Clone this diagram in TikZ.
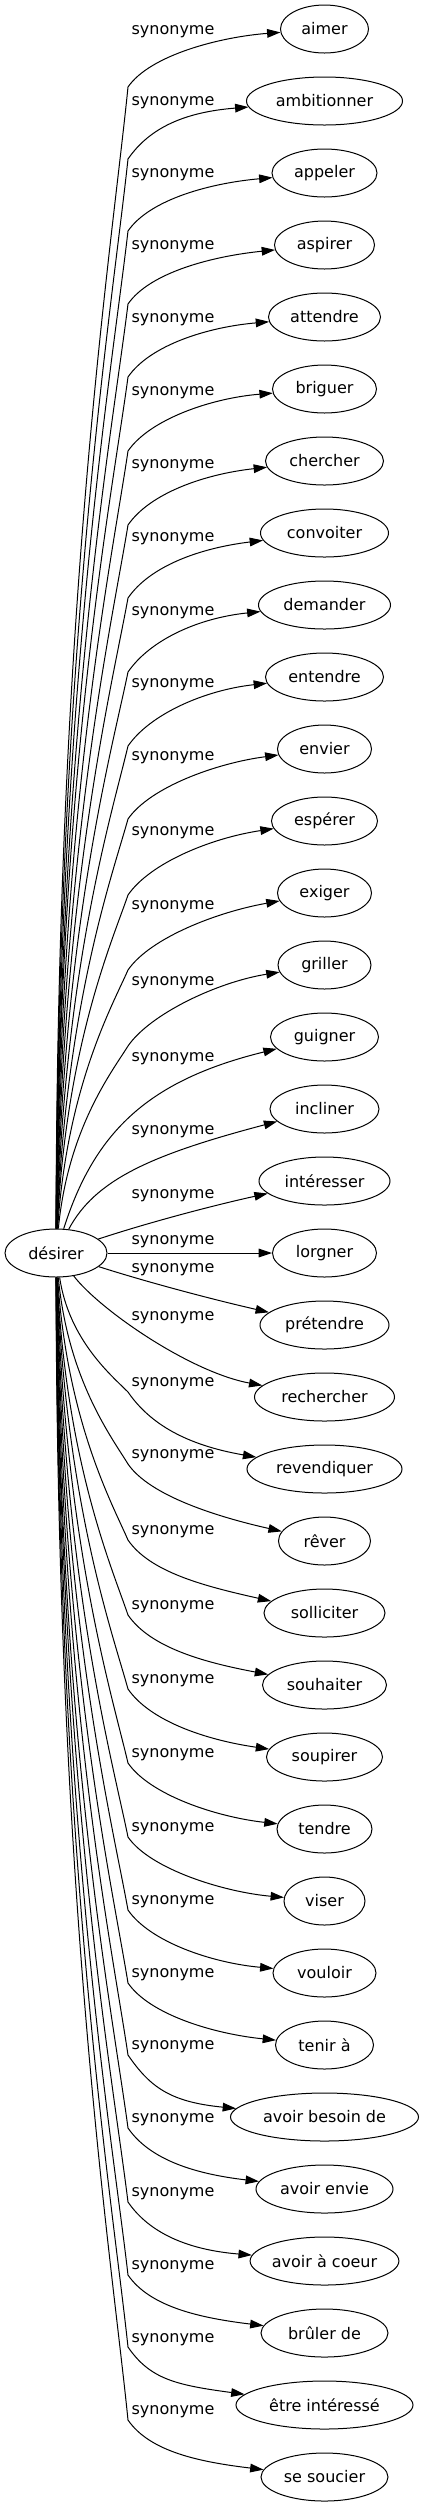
\documentclass[tikz,border=0pt]{standalone}
\usepackage{fontspec}
\setmainfont{DejaVu Sans}
\usetikzlibrary{shapes.geometric,arrows.meta,calc}
\tikzset{
  tnode/.style={draw, ellipse, line width=0.75pt, minimum width={#1*0.75pt}, minimum height=36pt, inner sep=0pt},
  lab/.style={inner sep=0pt},
  edge/.style={line width=0.75pt, -{Triangle[length=10pt,width=6.5pt]}}
}
% #1 target, #2 label y, #3 bend y, #4 end slope offset, #5 first control x
\newcommand\synup[5]{%
  \draw[edge] (d) .. controls (#5,{1229-0.55*(1229-#3)}) and (112,{#3+0.14*(1229-#3)}) .. (128,#3)
    .. controls (150,{#3-32}) and ($(#1.west)+(-60,#4)$) .. (#1);
  \node[lab] (l#1) at (173,#2) {synonyme};
}
\newcommand\syndown[5]{%
  \draw[edge] (d) .. controls (#5,{1277+0.55*(#3-1277)}) and (112,{#3-0.14*(#3-1277)}) .. (128,#3)
    .. controls (150,{#3+32}) and ($(#1.west)+(-60,-#4)$) .. (#1);
  \node[lab] (l#1) at (173,#2) {synonyme};
}
\begin{document}
\begin{tikzpicture}[x=0.75pt, y=-0.75pt, font=\fontsize{12}{14}\selectfont]
\useasboundingbox (0,0) rectangle (423,2507);
\node[tnode=102] (d) at (56,1253) {désirer};
\node[tnode=88]  (t0)  at (324.5,29)   {aimer};
\node[tnode=156] (t1)  at (324.5,101)  {ambitionner};
\node[tnode=105] (t2)  at (324.5,173)  {appeler};
\node[tnode=100] (t3)  at (324.5,245)  {aspirer};
\node[tnode=112] (t4)  at (324.5,317)  {attendre};
\node[tnode=104] (t5)  at (324.5,389)  {briguer};
\node[tnode=118] (t6)  at (324.5,461)  {chercher};
\node[tnode=128] (t7)  at (324.5,533)  {convoiter};
\node[tnode=132] (t8)  at (324.5,605)  {demander};
\node[tnode=118] (t9)  at (324.5,677)  {entendre};
\node[tnode=94]  (t10) at (324.5,749)  {envier};
\node[tnode=106] (t11) at (324.5,821)  {espérer};
\node[tnode=94]  (t12) at (324.5,893)  {exiger};
\node[tnode=93]  (t13) at (324.5,965)  {griller};
\node[tnode=108] (t14) at (324.5,1037) {guigner};
\node[tnode=109] (t15) at (324.5,1109) {incliner};
\node[tnode=131] (t16) at (324.5,1181) {intéresser};
\node[tnode=104] (t17) at (324.5,1253) {lorgner};
\node[tnode=129] (t18) at (324.5,1325) {prétendre};
\node[tnode=140] (t19) at (324.5,1397) {rechercher};
\node[tnode=155] (t20) at (324.5,1469) {revendiquer};
\node[tnode=92]  (t21) at (324.5,1541) {rêver};
\node[tnode=121] (t22) at (324.5,1613) {solliciter};
\node[tnode=124] (t23) at (324.5,1685) {souhaiter};
\node[tnode=116] (t24) at (324.5,1757) {soupirer};
\node[tnode=95]  (t25) at (324.5,1829) {tendre};
\node[tnode=81]  (t26) at (324.5,1901) {viser};
\node[tnode=103] (t27) at (324.5,1973) {vouloir};
\node[tnode=98]  (t28) at (324.5,2045) {tenir à};
\node[tnode=188] (t29) at (324.5,2117) {avoir besoin de};
\node[tnode=137] (t30) at (324.5,2189) {avoir envie};
\node[tnode=147] (t31) at (324.5,2261) {avoir à coeur};
\node[tnode=127] (t32) at (324.5,2333) {brûler de};
\node[tnode=177] (t33) at (324.5,2405) {être intéressé};
\node[tnode=127] (t34) at (324.5,2477) {se soucier};

\synup{t0}{32}{87}{8}{57}
\synup{t1}{103}{159}{11}{58}
\synup{t2}{175}{231}{10}{59}
\synup{t3}{247}{304}{11}{60}
\synup{t4}{320}{377}{10}{60}
\synup{t5}{393}{451}{9}{61}
\synup{t6}{466}{525}{13}{62}
\synup{t7}{539}{598}{15}{63}
\synup{t8}{613}{672}{13}{64}
\synup{t9}{685}{746}{13}{65}
\synup{t10}{758}{819}{14}{66}
\synup{t11}{833}{895}{17}{66}
\synup{t12}{907}{970}{19}{67}
\synup{t13}{983}{1046}{17}{68}

\draw[edge] (d) .. controls (95,1130) and (150,1080) .. (t14);
\node[lab] (lt14) at (173,1059) {synonyme};
\draw[edge] (d) .. controls (95,1180) and (150,1155) .. (t15);
\node[lab] (lt15) at (173,1132) {synonyme};
\draw[edge] (d) .. controls (150,1222) and (215,1205) .. (t16);
\node[lab] (lt16) at (173,1196) {synonyme};
\draw[edge] (d) -- (t17);
\node[lab] (lt17) at (173,1242) {synonyme};
\draw[edge] (d) .. controls (150,1283) and (215,1300) .. (t18);
\node[lab] (lt18) at (173,1270) {synonyme};
\draw[edge] (d) .. controls (100,1310) and (190,1372) .. (t19);
\node[lab] (lt19) at (173,1318) {synonyme};

\syndown{t20}{1384}{1392}{24}{69}
\syndown{t21}{1456}{1464}{24}{68}
\syndown{t22}{1532}{1540}{27}{67}
\syndown{t23}{1607}{1615}{23}{66}
\syndown{t24}{1681}{1689}{17}{66}
\syndown{t25}{1755}{1763}{12}{65}
\syndown{t26}{1829}{1837}{9}{64}
\syndown{t27}{1902}{1910}{10}{63}
\syndown{t28}{1975}{1983}{11}{62}
\syndown{t29}{2047}{2055}{15}{61}
\syndown{t30}{2120}{2128}{15}{60}
\syndown{t31}{2194}{2202}{11}{60}
\syndown{t32}{2267}{2275}{15}{59}
\syndown{t33}{2340}{2347}{20}{58}
\syndown{t34}{2412}{2420}{15}{57}
\end{tikzpicture}
\end{document}
